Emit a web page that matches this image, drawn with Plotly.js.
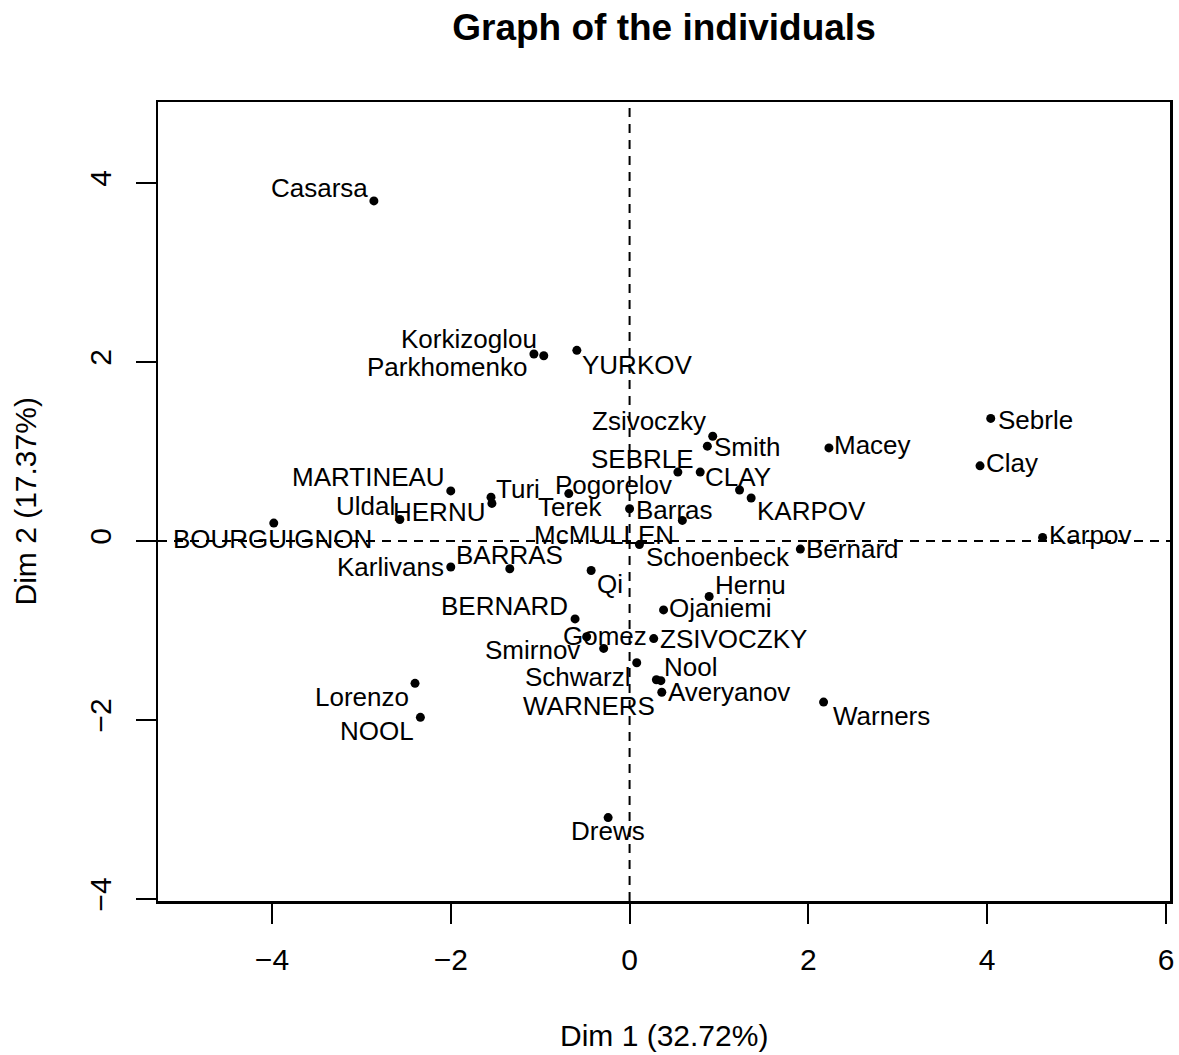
<!DOCTYPE html>
<html>
<head>
<meta charset="utf-8">
<script src="https://cdn.plot.ly/plotly-3.0.1.min.js"></script>
<style>html,body{margin:0;padding:0;background:#fff;}#chart{width:1179px;height:1055px;}</style>
</head>
<body>
<div id="chart"></div>
<script>
// Individuals (PCA of decathlon data)
const names = ["Casarsa","Korkizoglou","Parkhomenko","YURKOV","Zsivoczky","Smith","Macey","Sebrle","Clay","Karpov",
  "SEBRLE","CLAY","Pogorelov","KARPOV","Barras","McMULLEN","Schoenbeck","Bernard","Terek","MARTINEAU",
  "Turi","HERNU","Uldal","BOURGUIGNON","Karlivans","BARRAS","Qi","Hernu","Ojaniemi","BERNARD",
  "Gomez","Smirnov","ZSIVOCZKY","Schwarzl","Nool","Averyanov","WARNERS","Warners","Lorenzo","NOOL","Drews"];
const dim1 = [-2.86,-1.07,-0.96,-0.59,0.93,0.87,2.23,4.04,3.92,4.62,
  0.79,1.23,0.54,1.36,0.00,0.59,0.11,1.91,-0.68,-2.00,
  -1.55,-1.54,-2.57,-3.98,-2.00,-1.34,-0.43,0.89,0.38,-0.61,
  -0.48,-0.29,0.27,0.08,0.30,0.35,0.36,2.17,-2.40,-2.34,-0.24];
const dim2 = [3.80,2.09,2.07,2.13,1.17,1.06,1.04,1.37,0.84,0.04,
  0.77,0.57,0.77,0.48,0.36,0.23,-0.04,-0.09,0.53,0.56,
  0.49,0.42,0.24,0.20,-0.29,-0.31,-0.33,-0.62,-0.77,-0.87,
  -1.07,-1.20,-1.09,-1.36,-1.55,-1.56,-1.69,-1.80,-1.59,-1.97,-3.09];
const xTicks = [-4,-2,0,2,4,6];
const yTicks = [-4,-2,0,2,4];
const xTitle = "Dim 1 (32.72%)";
const yTitle = "Dim 2 (17.37%)";
const chartTitle = "Graph of the individuals";

// label placement offsets (pixels, screen down = positive)
const labelOffsetX = [-54.5,-64.5,-97,60,-63.7,39.3,43.8,45,32.2,47,
  -58.2,-1.1,-64.5,60.4,44.6,-77.9,78.3,52.6,1.8,-82.7,
  27.3,-52.5,-34.8,-0.8,-59.8,-0.1,18.5,41.5,57.3,-70.2,
  18,-71.3,79.5,-59.2,34.3,68.5,-72.4,58.2,-53.4,-43.1,-0.4];
const labelOffsetY = [-13,-15,11,14.7,-15,0.7,-3,1.8,-3,-2.4,
  -13.4,-12.8,13,12.8,1,14.3,12.8,-0.2,13.7,-13.5,
  -8.3,8.9,-13.5,16,0.5,-13.7,13,-11.7,-1.6,-12.6,
  -0.5,1.7,0.7,14.3,-13.1,11,13.5,14,13.7,14,13.2];

const FONT = "Liberation Sans, Arial, Helvetica, sans-serif";

const annotations = names.map((n,i) => ({
  x: dim1[i], y: dim2[i], xref: 'x', yref: 'y', text: n, showarrow: false,
  xanchor: 'center', yanchor: 'middle',
  xshift: labelOffsetX[i], yshift: -labelOffsetY[i],
  font: {family: FONT, size: 26, color: '#000'}
}));
annotations.push({
  x: 0.5, y: 0, xref: 'paper', yref: 'paper', text: xTitle, showarrow: false,
  xanchor: 'center', yanchor: 'middle', yshift: -134,
  font: {family: FONT, size: 30, color: '#000'}
});
annotations.push({
  x: 0, y: 0.5, xref: 'paper', yref: 'paper', text: yTitle, showarrow: false,
  textangle: -90, xanchor: 'center', yanchor: 'middle', xshift: -133,
  font: {family: FONT, size: 30, color: '#000'}
});

const trace = {
  x: dim1, y: dim2, text: names, type: 'scatter', mode: 'markers',
  marker: {color: '#000', size: 9}, hoverinfo: 'text', cliponaxis: false
};

const axisCommon = {
  showgrid: false, zeroline: false, showline: true, mirror: true,
  linecolor: '#000', linewidth: 2.5, ticks: 'outside', ticklen: 20, tickwidth: 2,
  tickcolor: '#000', tickfont: {family: FONT, size: 30, color: '#000'},
  tickmode: 'array'
};

const layout = {
  width: 1179, height: 1055,
  margin: {l: 158, r: 9, t: 102, b: 154},
  paper_bgcolor: '#fff', plot_bgcolor: '#fff',
  showlegend: false,
  title: {text: chartTitle, x: 0.5, xref: 'paper', y: 1 - 27/1055, yref: 'container',
    xanchor: 'center', yanchor: 'middle',
    font: {family: FONT, size: 37, color: '#000', weight: 'bold'}},
  xaxis: Object.assign({}, axisCommon, {range: [-5.275, 6.045], tickvals: xTicks, ticklabelstandoff: 10,
    ticktext: xTicks.map(v => v < 0 ? '\u2212' + Math.abs(v) : String(v))}),
  yaxis: Object.assign({}, axisCommon, {range: [-4.022, 4.905], tickvals: yTicks, tickangle: -90, ticklabelstandoff: 13,
    ticktext: yTicks.map(v => v < 0 ? '\u2212' + Math.abs(v) : String(v))}),
  shapes: [
    {type: 'line', xref: 'x', yref: 'paper', x0: 0, x1: 0, y0: 0, y1: 1,
      line: {color: '#000', width: 2, dash: '9px,7px'}},
    {type: 'line', xref: 'paper', yref: 'y', x0: 0, x1: 1, y0: 0, y1: 0,
      line: {color: '#000', width: 2, dash: '9px,7px'}}
  ],
  annotations: annotations
};

Plotly.newPlot('chart', [trace], layout, {displayModeBar: false, staticPlot: true});
</script>
</body>
</html>
